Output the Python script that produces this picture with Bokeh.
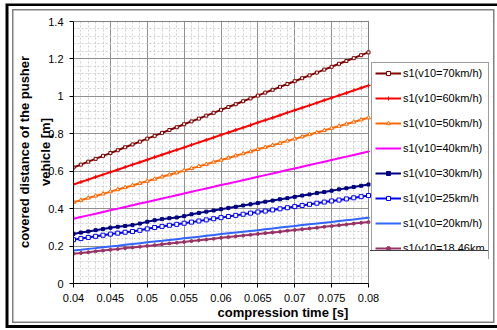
from bokeh.plotting import figure
from bokeh.models import (Range1d, FixedTicker, NumeralTickFormatter,
                          Legend, LegendItem)
from bokeh.embed import file_html
from bokeh.resources import INLINE

# compression time [s]
t = [0.040, 0.041, 0.042, 0.043, 0.044, 0.045, 0.046, 0.047, 0.048, 0.049,
     0.050, 0.051, 0.052, 0.053, 0.054, 0.055, 0.056, 0.057, 0.058, 0.059,
     0.060, 0.061, 0.062, 0.063, 0.064, 0.065, 0.066, 0.067, 0.068, 0.069,
     0.070, 0.071, 0.072, 0.073, 0.074, 0.075, 0.076, 0.077, 0.078, 0.079,
     0.080]

s_70 = [0.620, 0.635, 0.651, 0.666, 0.682, 0.697, 0.712, 0.728, 0.743, 0.758,
        0.774, 0.789, 0.805, 0.820, 0.835, 0.851, 0.866, 0.881, 0.897, 0.912,
        0.928, 0.943, 0.958, 0.974, 0.989, 1.004, 1.020, 1.035, 1.051, 1.066,
        1.081, 1.097, 1.112, 1.127, 1.143, 1.158, 1.174, 1.189, 1.204, 1.220,
        1.235]
s_60 = [0.529, 0.542, 0.555, 0.569, 0.582, 0.595, 0.608, 0.622, 0.635, 0.648,
        0.661, 0.675, 0.688, 0.701, 0.714, 0.727, 0.741, 0.754, 0.767, 0.780,
        0.794, 0.807, 0.820, 0.833, 0.846, 0.860, 0.873, 0.886, 0.899, 0.913,
        0.926, 0.939, 0.952, 0.965, 0.979, 0.992, 1.005, 1.018, 1.032, 1.045,
        1.058]
s_50 = [0.434, 0.445, 0.457, 0.468, 0.479, 0.491, 0.502, 0.513, 0.524, 0.536,
        0.547, 0.558, 0.570, 0.581, 0.592, 0.604, 0.615, 0.626, 0.637, 0.649,
        0.660, 0.671, 0.683, 0.694, 0.705, 0.717, 0.728, 0.739, 0.750, 0.762,
        0.773, 0.784, 0.796, 0.807, 0.818, 0.830, 0.841, 0.852, 0.863, 0.875,
        0.886]
s_40 = [0.346, 0.355, 0.364, 0.373, 0.382, 0.391, 0.400, 0.409, 0.418, 0.427,
        0.436, 0.445, 0.454, 0.463, 0.472, 0.481, 0.490, 0.499, 0.508, 0.517,
        0.526, 0.534, 0.543, 0.552, 0.561, 0.570, 0.579, 0.588, 0.597, 0.606,
        0.615, 0.624, 0.633, 0.642, 0.651, 0.660, 0.669, 0.678, 0.687, 0.696,
        0.705]
s_30 = [0.265, 0.272, 0.278, 0.285, 0.291, 0.298, 0.303, 0.307, 0.312, 0.320,
        0.330, 0.338, 0.344, 0.349, 0.353, 0.360, 0.370, 0.377, 0.384, 0.390,
        0.397, 0.404, 0.410, 0.417, 0.423, 0.430, 0.437, 0.443, 0.450, 0.456,
        0.463, 0.470, 0.476, 0.483, 0.489, 0.496, 0.503, 0.509, 0.516, 0.522,
        0.529]
s_25 = [0.234, 0.240, 0.246, 0.252, 0.258, 0.264, 0.269, 0.274, 0.278, 0.284,
        0.292, 0.299, 0.305, 0.311, 0.316, 0.322, 0.328, 0.334, 0.340, 0.346,
        0.352, 0.358, 0.364, 0.370, 0.376, 0.382, 0.387, 0.393, 0.399, 0.405,
        0.411, 0.417, 0.423, 0.429, 0.435, 0.441, 0.446, 0.452, 0.458, 0.464,
        0.470]
s_20 = [0.176, 0.180, 0.185, 0.189, 0.194, 0.198, 0.202, 0.207, 0.211, 0.215,
        0.220, 0.224, 0.228, 0.233, 0.237, 0.242, 0.246, 0.250, 0.255, 0.259,
        0.264, 0.268, 0.272, 0.277, 0.281, 0.285, 0.290, 0.294, 0.299, 0.303,
        0.307, 0.312, 0.316, 0.320, 0.325, 0.329, 0.334, 0.338, 0.342, 0.347,
        0.351]
s_1846 = [0.159, 0.163, 0.167, 0.172, 0.176, 0.180, 0.184, 0.189, 0.193, 0.197,
          0.201, 0.205, 0.210, 0.214, 0.218, 0.222, 0.227, 0.231, 0.235, 0.239,
          0.244, 0.248, 0.252, 0.256, 0.260, 0.265, 0.269, 0.273, 0.277, 0.282,
          0.286, 0.290, 0.294, 0.298, 0.303, 0.307, 0.311, 0.315, 0.320, 0.324,
          0.328]

x_ticks = [0.04, 0.045, 0.05, 0.055, 0.06, 0.065, 0.07, 0.075, 0.08]
y_ticks = [0, 0.2, 0.4, 0.6, 0.8, 1.0, 1.2, 1.4]
x_minor = [0.041, 0.042, 0.043, 0.044, 0.046, 0.047, 0.048, 0.049,
           0.051, 0.052, 0.053, 0.054, 0.056, 0.057, 0.058, 0.059,
           0.061, 0.062, 0.063, 0.064, 0.066, 0.067, 0.068, 0.069,
           0.071, 0.072, 0.073, 0.074, 0.076, 0.077, 0.078, 0.079]
y_minor = [0.04, 0.08, 0.12, 0.16, 0.24, 0.28, 0.32, 0.36, 0.44, 0.48, 0.52, 0.56,
           0.64, 0.68, 0.72, 0.76, 0.84, 0.88, 0.92, 0.96, 1.04, 1.08, 1.12, 1.16,
           1.24, 1.28, 1.32, 1.36]

series = [s_70, s_60, s_50, s_40, s_30, s_25, s_20, s_1846]
labels = ["s1(v10=70km/h)", "s1(v10=60km/h)", "s1(v10=50km/h)", "s1(v10=40km/h)",
          "s1(v10=30km/h)", "s1(v10=25km/h", "s1(v10=20km/h)", "s1(v10=18.46km"]
colors = ["#800000", "#FF0000", "#FF6600", "#FF00FF",
          "#000080", "#0000FF", "#3366FF", "#993366"]
markers = ["square", "cross", "triangle", "dash", "square", "square", "dash", "circle"]
msizes = [3, 4, 4, 3, 3, 4, 3, 3]
mfills = ["white", None, "white", None, "#000080", "white", None, "#993366"]

X0, X1 = x_ticks[0], x_ticks[-1]
Y0, Y1 = y_ticks[0], y_ticks[-1]

FONT = "Liberation Sans"

# layout (pixels): plot area 73..368 x 21..283; the frame is widened to 492 so
# that the legend box (placed in the frame) is not clipped
PX_L, PX_R, PX_FR, PX_T, PX_B = 73, 368, 492, 21, 283
LEG_L, LEG_B = 371, 259
x_end = X0 + (X1 - X0) * (PX_FR - PX_L) / (PX_R - PX_L)
y_end = Y1 + (Y1 - Y0) * 1.0 / (PX_B - PX_T)

# chart-area frames (black outer, grey inner) drawn as inset CSS shadows
RINGS = ("inset 5.5px 0 0 0 white, inset 0 3.5px 0 0 white, inset 0 -2px 0 0 white, "
         "inset 8.5px 0 0 0 black, inset 0 6px 0 0 black, inset 0 -5px 0 0 black, "
         "inset 12px 0 0 0 white, inset 0 9px 0 0 white, inset -2.5px 0 0 0 white, "
         "inset 0 -7px 0 0 white, "
         "inset 13.5px 0 0 0 #808080, inset 0 10.5px 0 0 #808080, "
         "inset -4px 0 0 0 #808080, inset 0 -8.5px 0 0 #808080")

# the original legend box is cut just below its 8th entry
LEGEND_CUT = (":host::after { content: ''; position: absolute; left: 370px; top: 249.5px; "
              "width: 118px; height: 14px; box-sizing: border-box; background: white; "
              "border-top: 1.5px solid #404040; z-index: 100; pointer-events: none; }")

p = figure(width=497, height=330, output_backend="svg", toolbar_location=None,
           x_range=Range1d(X0, x_end), y_range=Range1d(Y0, y_end),
           min_border_left=PX_L, min_border_right=497 - PX_FR,
           min_border_top=PX_T - 1, min_border_bottom=330 - PX_B,
           styles={"box-shadow": RINGS, "background-color": "white"},
           stylesheets=[":host { position: relative; box-shadow: %s; background-color: white; }" % RINGS,
                        LEGEND_CUT])
p.background_fill_color = None
p.border_fill_color = None
p.outline_line_color = None

p.xaxis.ticker = FixedTicker(ticks=x_ticks, minor_ticks=x_minor)
p.yaxis.ticker = FixedTicker(ticks=y_ticks, minor_ticks=y_minor)
p.xaxis.formatter = NumeralTickFormatter(format="0.00[0]")
p.yaxis.formatter = NumeralTickFormatter(format="0.[0]")
p.xaxis.bounds = (X0, X1)
p.yaxis.bounds = (Y0, Y1)

for ax in (p.xaxis, p.yaxis):
    ax.axis_line_color = "black"
    ax.major_tick_line_color = "black"
    ax.major_tick_out = 4
    ax.major_tick_in = 0
    ax.minor_tick_line_color = None
    ax.major_label_text_font = FONT
    ax.major_label_text_font_size = "11px"
    ax.major_label_text_color = "black"
    ax.axis_label_text_font = FONT
    ax.axis_label_text_font_size = "13px"
    ax.axis_label_text_font_style = "bold"
    ax.axis_label_text_color = "black"

p.xaxis.axis_label = "compression time [s]"
p.xaxis.major_label_standoff = 6
p.xaxis.axis_label_standoff = 0
p.yaxis.axis_label = "covered distance of the pusher\nvehicle [m]"
p.yaxis.major_label_standoff = 6
p.yaxis.axis_label_standoff = -8
p.yaxis.axis_label_text_line_height = 1.4

for g in (p.xgrid, p.ygrid):
    g.grid_line_color = "#909090"
    g.grid_line_width = 1
    g.minor_grid_line_color = "#d0d0d0"
    g.minor_grid_line_dash = "2 2"
    g.minor_grid_line_width = 1
p.xgrid.bounds = (X0, X1)
p.ygrid.bounds = (Y0, Y1)

# blank the widened part of the frame, then draw the plot-area border
p.quad(left=[X1], right=[x_end], bottom=[Y0], top=[y_end],
       fill_color="white", line_color=None)
p.quad(left=[X0], right=[X1], bottom=[Y0], top=[Y1],
       fill_color=None, line_color="#808080", line_width=1)

items = []
for s, lab, c, m, ms, mf in zip(series, labels, colors, markers, msizes, mfills):
    lr = p.line(t, s, line_color=c, line_width=2)
    sr = p.scatter(t, s, marker=m, size=ms, line_color=c,
                   fill_color=mf if mf else c, line_width=1)
    items.append(LegendItem(label=lab, renderers=[lr, sr]))

legend = Legend(items=items, location=(LEG_L - PX_L, PX_B - LEG_B), orientation="vertical",
                padding=3, margin=0, spacing=11, glyph_width=26, glyph_height=10,
                label_height=14, label_standoff=2, label_text_font=FONT,
                label_text_font_size="11px", label_text_color="black",
                border_line_color="#404040", border_line_width=1.5,
                background_fill_color="white", background_fill_alpha=1)
p.add_layout(legend)

open("out.html", "w").write(file_html(p, INLINE))
